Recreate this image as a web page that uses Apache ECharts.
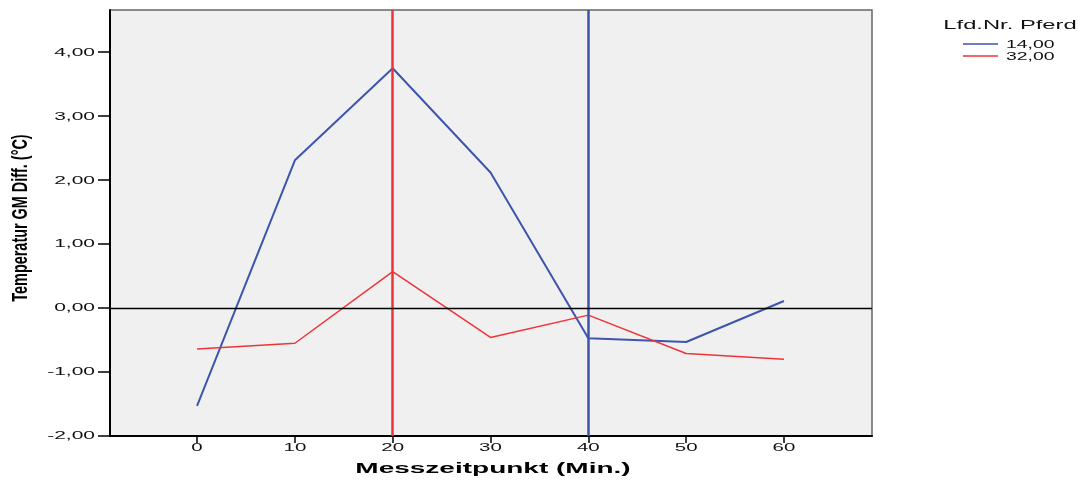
<!DOCTYPE html>
<html>
<head>
<meta charset="utf-8">
<script src="https://cdn.jsdelivr.net/npm/echarts@6/dist/echarts.min.js"></script>
<style>html,body{margin:0;padding:0;background:#fff;}#c{width:1082px;height:481px;}</style>
</head>
<body>
<div id="c"></div>
<script>
const timepoints = [0, 10, 20, 30, 40, 50, 60];
const seriesNames = ['14,00', '32,00'];
const pferd14 = [-1.53, 2.31, 3.75, 2.12, -0.47, -0.53, 0.11];
const pferd32 = [-0.64, -0.55, 0.57, -0.46, -0.11, -0.71, -0.80];
const xTicks = [0, 10, 20, 30, 40, 50, 60];
const yTicks = [-2, -1, 0, 1, 2, 3, 4];
const refLineRed = 20;
const refLineBlue = 40;
const xTitle = 'Messzeitpunkt (Min.)';
const yTitle = 'Temperatur GM Diff. (°C)';
const legendTitle = 'Lfd.Nr. Pferd';

const BLUE = '#3d55ac';
const RED = '#ef3339';
const FONT = "'Liberation Sans', Arial, sans-serif";
const X_MIN = -8.9, X_MAX = 69, Y_MIN = -2, Y_MAX = 4.66;

function fmt(v) { return v.toFixed(2).replace('.', ','); }

const chart = echarts.init(document.getElementById('c'), null, {renderer: 'canvas'});

const option = {
  animation: false,
  grid: {
    left: 110, right: 210, top: 10, bottom: 45,
    show: true, backgroundColor: '#f0f0f0', borderColor: '#666', borderWidth: 1.5
  },
  xAxis: {
    type: 'value', min: X_MIN, max: X_MAX,
    axisLine: {show: true, onZero: false, lineStyle: {color: '#000', width: 2}},
    axisTick: {show: true, customValues: xTicks, length: 7, lineStyle: {color: '#000', width: 1.5}},
    axisLabel: {show: false},
    splitLine: {show: false}
  },
  yAxis: {
    type: 'value', min: Y_MIN, max: Y_MAX,
    axisLine: {show: true, onZero: false, lineStyle: {color: '#000', width: 2}},
    axisTick: {show: true, customValues: yTicks, length: 12, lineStyle: {color: '#000', width: 1.5}},
    axisLabel: {show: false},
    splitLine: {show: false}
  },
  series: [
    {
      name: seriesNames[0], type: 'line', symbol: 'none',
      data: timepoints.map((t, i) => [t, pferd14[i]]),
      lineStyle: {color: BLUE, width: 2}, itemStyle: {color: BLUE},
      markLine: {
        silent: true, symbol: 'none', label: {show: false},
        data: [{xAxis: refLineBlue, lineStyle: {color: BLUE, width: 2.5, type: 'solid'}}]
      }
    },
    {
      name: seriesNames[1], type: 'line', symbol: 'none',
      data: timepoints.map((t, i) => [t, pferd32[i]]),
      lineStyle: {color: RED, width: 1.5}, itemStyle: {color: RED},
      markLine: {
        silent: true, symbol: 'none', label: {show: false},
        data: [
          {xAxis: refLineRed, lineStyle: {color: RED, width: 2.5, type: 'solid'}},
          {yAxis: 0, lineStyle: {color: '#000', width: 1.3, type: 'solid'}}
        ]
      }
    }
  ]
};
chart.setOption(option);

const g = [];
xTicks.forEach(v => {
  const p = chart.convertToPixel({xAxisIndex: 0, yAxisIndex: 0}, [v, Y_MIN]);
  g.push({type: 'text', x: p[0], y: p[1] + 12, scaleX: 1.95, silent: true,
    style: {text: String(v), font: '10.5px ' + FONT, fill: '#111', align: 'center', verticalAlign: 'middle'}});
});
yTicks.forEach(v => {
  const p = chart.convertToPixel({xAxisIndex: 0, yAxisIndex: 0}, [X_MIN, v]);
  g.push({type: 'text', x: p[0] - 15, y: p[1] + 0.5, scaleX: 2.0, silent: true,
    style: {text: fmt(v), font: '10.5px ' + FONT, fill: '#111', align: 'right', verticalAlign: 'middle'}});
});
const c0 = chart.convertToPixel({xAxisIndex: 0, yAxisIndex: 0}, [X_MIN, Y_MIN]);
const c1 = chart.convertToPixel({xAxisIndex: 0, yAxisIndex: 0}, [X_MAX, Y_MAX]);
g.push({type: 'text', x: (c0[0] + c1[0]) / 2 + 2, y: 469, scaleX: 2.0, scaleY: 1.05, silent: true,
  style: {text: xTitle, font: 'bold 14px ' + FONT, fill: '#000', align: 'center', verticalAlign: 'middle'}});
g.push({type: 'text', x: 21, y: 218, rotation: Math.PI / 2, scaleX: 0.93, scaleY: 1.4, silent: true,
  style: {text: yTitle, font: 'bold 15.5px ' + FONT, fill: '#000', align: 'center', verticalAlign: 'middle'}});
g.push({type: 'text', x: 1010, y: 26, scaleX: 1.9, silent: true,
  style: {text: legendTitle, font: '12.5px ' + FONT, fill: '#111', align: 'center', verticalAlign: 'middle'}});
const legendColors = [BLUE, RED];
seriesNames.forEach((n, i) => {
  const yy = 44 + i * 12;
  g.push({type: 'line', silent: true, shape: {x1: 963, y1: yy, x2: 998, y2: yy},
    style: {stroke: legendColors[i], lineWidth: 1.3}});
  g.push({type: 'text', x: 1006, y: yy + 1, scaleX: 1.85, silent: true,
    style: {text: n, font: '10.5px ' + FONT, fill: '#111', align: 'left', verticalAlign: 'middle'}});
});
chart.setOption({graphic: g});
</script>
</body>
</html>
